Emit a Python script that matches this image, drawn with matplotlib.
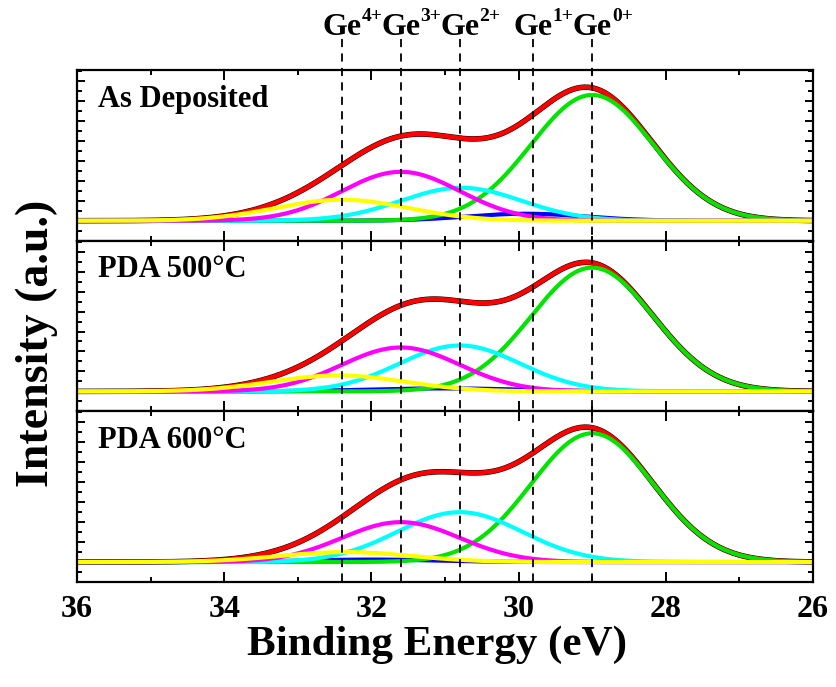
import matplotlib
matplotlib.use('Agg')
import matplotlib.pyplot as plt
from matplotlib.lines import Line2D
from matplotlib.ticker import MultipleLocator
from matplotlib.transforms import blended_transform_factory
import numpy as np

plt.rcParams['font.family'] = 'Liberation Serif'
plt.rcParams['font.weight'] = 'bold'

# Ge 3d chemical states (binding energy of each component, eV)
states = ['4+', '3+', '2+', '1+', '0+']
state_energy = [32.4, 31.6, 30.8, 29.8, 29.0]
state_colors = ['#ffff00', '#ff00ff', '#00ffff', '#0000ff', '#00e400']

sample_names = ['As Deposited', 'PDA 500°C', 'PDA 600°C']

# fitted gaussian components, order Ge4+, Ge3+, Ge2+, Ge1+, Ge0+
dep_center = [32.4, 31.6, 30.78, 29.9, 29.0]
dep_height = [21, 49, 33, 7, 126]
dep_sigma = [0.9, 0.8, 0.82, 0.8, 0.83]

pda500_center = [32.45, 31.6, 30.8, 31.0, 29.0]
pda500_height = [16, 44, 46, 3, 124]
pda500_sigma = [0.9, 0.8, 0.82, 1.0, 0.83]

pda600_center = [32.35, 31.6, 30.8, 32.0, 29.0]
pda600_height = [10, 40, 50, 2.5, 129]
pda600_sigma = [0.9, 0.8, 0.85, 0.9, 0.83]

fits = [(dep_center, dep_height, dep_sigma),
        (pda500_center, pda500_height, pda500_sigma),
        (pda600_center, pda600_height, pda600_sigma)]

energy = np.linspace(36, 26, 600)


def gauss(x, c, h, s):
    return h * np.exp(-(x - c) ** 2 / (2 * s ** 2))


fig = plt.figure(figsize=(8.36, 6.87), dpi=100)
gs = fig.add_gridspec(3, 1, left=0.0921, right=0.9725, bottom=0.1528, top=0.8981, hspace=0)
axes = [fig.add_subplot(gs[i]) for i in range(3)]

draw_order = [3, 4, 2, 1, 0]  # blue, green, cyan, magenta, yellow on top

for ax, name, (cen, hgt, sig) in zip(axes, sample_names, fits):
    comps = [gauss(energy, c, h, s) for c, h, s in zip(cen, hgt, sig)]
    total = np.sum(comps, axis=0)
    ax.plot(energy, total, color='black', lw=4.0)
    ax.plot(energy, total, color='#ff0000', lw=3.3)
    for k in draw_order:
        ax.plot(energy, comps[k], color=state_colors[k], lw=3.0)

    ax.set_xlim(36, 26)
    ax.set_ylim(-20, 151)
    ax.xaxis.set_major_locator(MultipleLocator(2))
    ax.xaxis.set_minor_locator(MultipleLocator(1))
    ax.yaxis.set_major_locator(MultipleLocator(20))
    ax.yaxis.set_minor_locator(MultipleLocator(10))
    ax.tick_params(which='both', direction='in', top=True, right=True, width=1.4)
    ax.tick_params(which='major', length=7)
    ax.tick_params(which='minor', length=3.8)
    ax.tick_params(axis='y', which='major', length=6)
    ax.set_yticklabels([])
    for sp in ax.spines.values():
        sp.set_linewidth(1.6)
    ax.text(0.0285, 0.83, name, transform=ax.transAxes, fontsize=22,
            fontweight='bold', va='center', ha='left')

for ax in axes[:2]:
    ax.tick_params(labelbottom=False)
axes[2].tick_params(axis='x', labelsize=23, pad=9)

# dashed markers for each oxidation state, running through all panels
trans = blended_transform_factory(axes[2].transData, fig.transFigure)
for e in state_energy:
    fig.add_artist(Line2D([e, e], [0.943, 0.1528], transform=trans, color='black',
                          lw=1.3, dashes=(4.5, 3.5), zorder=5))

fig.canvas.draw()
renderer = fig.canvas.get_renderer()
for e, st in zip(state_energy, states):
    t = fig.text(e, 0.949, 'Ge', transform=trans, fontsize=23, ha='center', va='baseline')
    bb = t.get_window_extent(renderer)
    fig.text(bb.x1 / fig.bbox.width, 0.970, st, fontsize=14, ha='left', va='baseline')

fig.text(0.5225, 1 - 645 / 687, 'Binding Energy (eV)', fontsize=31, ha='center', va='center')
fig.text(0.044, 1 - 343 / 687, 'Intensity (a.u.)', fontsize=33, ha='center', va='center',
         rotation=90)

fig.savefig('out.png', dpi=100)
